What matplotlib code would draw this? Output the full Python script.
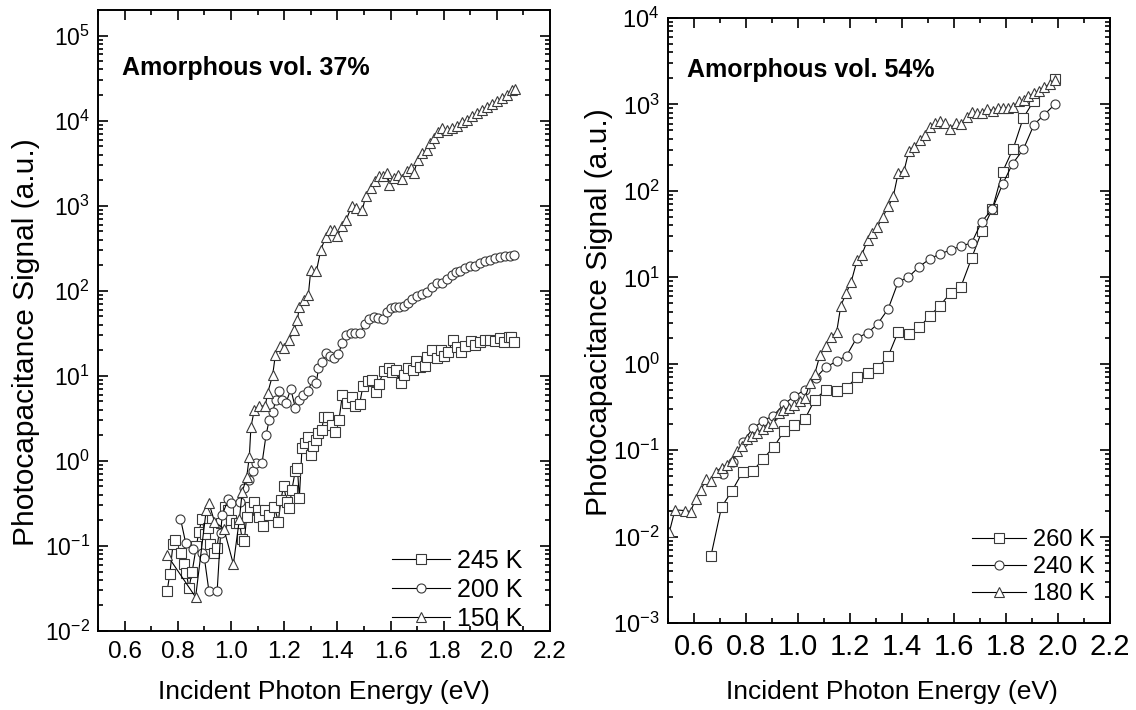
import numpy as np
import matplotlib
matplotlib.use("Agg")
from matplotlib import pyplot as plt

plt.rcParams['font.family'] = ['Liberation Sans', 'DejaVu Sans']
plt.rcParams['mathtext.fontset'] = 'custom'
plt.rcParams['mathtext.rm'] = 'Liberation Sans'
plt.rcParams['mathtext.it'] = 'Liberation Sans:italic'
plt.rcParams['mathtext.bf'] = 'Liberation Sans:bold'

# ---- left panel: amorphous vol. 37% ----
e_245 = [0.76, 0.77, 0.782, 0.791, 0.811, 0.822, 0.832, 0.842, 0.854, 0.87, 0.879, 0.891,
         0.903, 0.913, 0.922, 0.938, 0.947, 0.961, 0.979, 0.988, 1.0, 1.017, 1.032, 1.042,
         1.05, 1.059, 1.072, 1.088, 1.10, 1.107, 1.119, 1.129, 1.144, 1.163, 1.178, 1.188,
         1.198, 1.21, 1.219, 1.229, 1.242, 1.25, 1.257, 1.267, 1.279, 1.29, 1.30, 1.309,
         1.319, 1.329, 1.341, 1.35, 1.366, 1.379, 1.391, 1.406, 1.419, 1.437, 1.456, 1.466,
         1.484, 1.496, 1.516, 1.529, 1.546, 1.556, 1.575, 1.594, 1.606, 1.619, 1.638, 1.65,
         1.666, 1.684, 1.696, 1.712, 1.728, 1.737, 1.756, 1.775, 1.79, 1.803, 1.818, 1.835,
         1.85, 1.866, 1.881, 1.903, 1.918, 1.937, 1.956, 1.974, 1.993, 2.012, 2.028, 2.045,
         2.053, 2.065]
s_245 = [0.0296, 0.047, 0.105, 0.118, 0.082, 0.061, 0.048, 0.032, 0.050, 0.10, 0.146, 0.206,
         0.138, 0.162, 0.105, 0.082, 0.094, 0.188, 0.29, 0.265, 0.20, 0.188, 0.188, 0.12,
         0.114, 0.22, 0.285, 0.33, 0.265, 0.22, 0.172, 0.265, 0.23, 0.29, 0.193, 0.35,
         0.51, 0.33, 0.28, 0.457, 0.77, 0.82, 0.363, 1.41, 1.62, 1.93, 1.17, 1.48,
         1.77, 2.12, 2.32, 3.3, 3.3, 2.65, 2.21, 3.0, 6.0, 4.8, 5.7, 4.4,
         4.7, 7.5, 8.6, 9.0, 6.5, 8.05, 11.5, 12.3, 11.0, 11.8, 8.2, 10.3,
         12.3, 11.8, 14.8, 12.6, 13.1, 16.6, 19.9, 16.3, 19.9, 16.9, 19.3, 26.5,
         22.1, 19.3, 22.5, 26.0, 23.2, 24.7, 26.5, 26.5, 26.0, 27.5, 25.2, 28.5,
         28.9, 25.1]

e_200 = [0.81, 0.83, 0.857, 0.892, 0.90, 0.917, 0.948, 0.961, 0.967, 0.99, 1.0, 1.035,
         1.05, 1.067, 1.082, 1.094, 1.117, 1.132, 1.144, 1.157, 1.169, 1.179, 1.192, 1.207,
         1.225, 1.242, 1.257, 1.272, 1.291, 1.306, 1.321, 1.329, 1.344, 1.356, 1.371, 1.388,
         1.404, 1.419, 1.431, 1.45, 1.466, 1.485, 1.504, 1.519, 1.537, 1.554, 1.571, 1.587,
         1.60, 1.616, 1.633, 1.65, 1.666, 1.681, 1.70, 1.718, 1.737, 1.756, 1.775, 1.793,
         1.812, 1.831, 1.846, 1.862, 1.881, 1.90, 1.918, 1.937, 1.956, 1.974, 1.993, 2.012,
         2.03, 2.049, 2.065]
s_200 = [0.21, 0.107, 0.093, 0.082, 0.072, 0.0295, 0.0295, 0.141, 0.23, 0.357, 0.32, 0.33,
         0.48, 0.60, 0.77, 0.94, 0.95, 2.02, 3.05, 3.8, 5.2, 6.7, 5.2, 4.8,
         7.0, 4.2, 5.2, 6.0, 6.7, 9.0, 8.2, 12.3, 14.7, 18.5, 16.9, 16.1,
         18.2, 24.3, 30.3, 31.6, 31.6, 31.6, 40.8, 46, 49, 47.8, 46, 55.6,
         63, 65, 65, 66.5, 71.7, 80, 87.4, 92, 98, 112, 125, 123,
         137, 154, 164, 173, 185, 193, 197, 212, 221, 227, 243, 250,
         254, 257, 265]

e_150 = [0.76, 0.867, 0.907, 0.917, 0.938, 0.973, 1.009, 1.032, 1.042, 1.059, 1.069, 1.075,
         1.088, 1.107, 1.129, 1.138, 1.157, 1.167, 1.184, 1.2, 1.219, 1.238, 1.25, 1.257,
         1.275, 1.291, 1.30, 1.321, 1.338, 1.356, 1.371, 1.388, 1.40, 1.419, 1.434, 1.454,
         1.469, 1.494, 1.506, 1.525, 1.541, 1.556, 1.571, 1.587, 1.596, 1.612, 1.628, 1.643,
         1.662, 1.678, 1.687, 1.703, 1.718, 1.737, 1.75, 1.762, 1.778, 1.793, 1.812, 1.831,
         1.85, 1.868, 1.887, 1.906, 1.925, 1.943, 1.962, 1.981, 2.0, 2.018, 2.037, 2.056,
         2.068]
s_150 = [0.078, 0.025, 0.265, 0.32, 0.193, 0.16, 0.061, 0.21, 0.43, 0.64, 1.12, 2.5,
         4.0, 4.36, 4.45, 6.3, 10.3, 17.7, 22.5, 21.2, 26.5, 34.8, 45.6, 65,
         78, 90, 174, 169, 304, 428, 512, 522, 443, 570, 685, 1000,
         940, 880, 1290, 1620, 1930, 2220, 2220, 2420, 1770, 2110, 2310, 2060,
         2540, 2770, 2420, 3480, 4150, 4540, 5400, 6200, 7450, 8150, 7800, 8150,
         8700, 9600, 10300, 11300, 12200, 13400, 14500, 15800, 16900, 18300, 20100, 22700,
         23500]

# ---- right panel: amorphous vol. 54% ----
e_260 = [0.665, 0.706, 0.747, 0.787, 0.828, 0.867, 0.908, 0.947, 0.986, 1.027, 1.065, 1.107,
         1.149, 1.187, 1.226, 1.268, 1.307, 1.347, 1.386, 1.427, 1.467, 1.508, 1.546, 1.587,
         1.627, 1.668, 1.707, 1.748, 1.787, 1.828, 1.867, 1.908, 1.988]
s_260 = [0.0059, 0.022, 0.034, 0.056, 0.058, 0.080, 0.11, 0.166, 0.193, 0.23, 0.385, 0.50,
         0.49, 0.525, 0.70, 0.78, 0.895, 1.22, 2.36, 2.2, 2.63, 3.6, 4.7, 6.6,
         7.8, 16.6, 34, 62, 166, 308, 700, 1110, 1980]

e_240 = [0.71, 0.749, 0.787, 0.828, 0.867, 0.905, 0.946, 0.986, 1.027, 1.068, 1.107, 1.149,
         1.187, 1.226, 1.268, 1.307, 1.347, 1.386, 1.424, 1.467, 1.508, 1.546, 1.587, 1.627,
         1.668, 1.707, 1.748, 1.787, 1.826, 1.867, 1.908, 1.947, 1.988]
s_240 = [0.053, 0.073, 0.124, 0.18, 0.22, 0.25, 0.34, 0.42, 0.50, 0.685, 0.91, 1.07,
         1.24, 1.99, 2.27, 2.9, 4.3, 8.9, 10, 13.3, 16.4, 18.6, 20.7, 23,
         25, 44, 62, 119, 207, 302, 583, 760, 1000]

e_180 = [0.505, 0.527, 0.565, 0.587, 0.607, 0.627, 0.646, 0.665, 0.685, 0.706, 0.726, 0.747,
         0.764, 0.783, 0.803, 0.822, 0.844, 0.864, 0.886, 0.905, 0.927, 0.944, 0.965, 0.986,
         1.008, 1.027, 1.046, 1.065, 1.085, 1.107, 1.127, 1.149, 1.165, 1.185, 1.205, 1.228,
         1.245, 1.268, 1.286, 1.305, 1.326, 1.348, 1.367, 1.386, 1.408, 1.427, 1.446, 1.469,
         1.488, 1.508, 1.527, 1.546, 1.565, 1.585, 1.608, 1.627, 1.649, 1.668, 1.687, 1.707,
         1.726, 1.749, 1.771, 1.79, 1.809, 1.828, 1.85, 1.869, 1.886, 1.908, 1.928, 1.947,
         1.969, 1.988]
s_180 = [0.0112, 0.0204, 0.020, 0.0195, 0.0275, 0.0346, 0.046, 0.044, 0.056, 0.063, 0.0675, 0.075,
         0.098, 0.112, 0.134, 0.146, 0.159, 0.177, 0.19, 0.204, 0.27, 0.295, 0.309, 0.33,
         0.368, 0.40, 0.60, 0.77, 1.27, 1.59, 2.02, 2.33, 4.7, 6.5, 8.9, 16,
         18, 27, 33, 38, 50, 66, 87, 162, 170, 290, 325, 385,
         440, 550, 610, 640, 610, 525, 610, 590, 715, 815, 800, 795,
         890, 850, 915, 915, 905, 930, 1090, 1130, 1240, 1350, 1450, 1580,
         1730, 1930]

fig = plt.figure(figsize=(11.36, 7.10), dpi=100)
ax1 = fig.add_axes([0.0863, 0.1113, 0.3979, 0.8746])
ax2 = fig.add_axes([0.588, 0.1225, 0.389, 0.8521])

style = dict(color='black', lw=0.8, mfc='white', mec='#3a3a3a', mew=0.8, ms=6.5)


def setup(ax, ylim, decades, tick_size, ytick_size):
    ax.set_yscale('log')
    ax.set_xlim(0.5, 2.2)
    ax.set_ylim(*ylim)
    ax.set_yticks([10.0 ** k for k in decades])
    minor = [m * 10.0 ** k for k in range(decades[0] - 1, decades[-1] + 1)
             for m in range(2, 10) if ylim[0] < m * 10.0 ** k < ylim[1]]
    ax.set_yticks(minor, minor=True)
    ax.set_xticks(np.arange(0.6, 2.21, 0.2))
    ax.set_xticks(np.arange(0.5, 2.21, 0.1), minor=True)
    ax.set_xticklabels(['%.1f' % t for t in np.arange(0.6, 2.21, 0.2)])
    ax.tick_params(which='both', direction='in', top=True, right=True, width=1.2)
    ax.tick_params(which='major', length=7)
    ax.tick_params(which='minor', length=3.5)
    ax.tick_params(axis='x', labelsize=tick_size, pad=7)
    ax.tick_params(axis='y', labelsize=ytick_size, pad=6)
    for sp in ax.spines.values():
        sp.set_linewidth(1.4)


setup(ax1, (1e-2, 2e5), range(-2, 6), 17.5, 16.5)
ax1.plot(e_245, s_245, marker='s', label='245 K', **style)
ax1.plot(e_200, s_200, marker='o', label='200 K', **style)
ax1.plot(e_150, s_150, marker='^', label='150 K', **style)
ax1.text(0.053, 0.907, 'Amorphous vol. 37%', transform=ax1.transAxes,
         fontsize=18, fontweight='bold', va='center', ha='left')
ax1.set_xlabel('Incident Photon Energy (eV)', fontsize=19)
ax1.set_ylabel('Photocapacitance Signal (a.u.)', fontsize=21.5)
ax1.xaxis.set_label_coords(0.5, -0.079)
ax1.yaxis.set_label_coords(-0.128, 0.465)
ax1.legend(loc='lower right', bbox_to_anchor=(0.94, 0.0), frameon=False, fontsize=18,
           borderpad=0, borderaxespad=0, labelspacing=0.2, handlelength=2.3,
           handletextpad=0.3, numpoints=1)

setup(ax2, (1e-3, 1e4), range(-3, 5), 21, 17)
ax2.plot(e_260, s_260, marker='s', label='260 K', **style)
ax2.plot(e_240, s_240, marker='o', label='240 K', **style)
ax2.plot(e_180, s_180, marker='^', label='180 K', **style)
ax2.text(0.043, 0.914, 'Amorphous vol. 54%', transform=ax2.transAxes,
         fontsize=18, fontweight='bold', va='center', ha='left')
ax2.set_xlabel('Incident Photon Energy (eV)', fontsize=19)
ax2.set_ylabel('Photocapacitance Signal (a.u.)', fontsize=21.5)
ax2.xaxis.set_label_coords(0.507, -0.094)
ax2.yaxis.set_label_coords(-0.124, 0.514)
ax2.legend(loc='lower right', bbox_to_anchor=(0.966, 0.03), frameon=False, fontsize=17,
           borderpad=0, borderaxespad=0, labelspacing=0.2, handlelength=2.3,
           handletextpad=0.3, numpoints=1)

fig.savefig('out.png', dpi=100)
